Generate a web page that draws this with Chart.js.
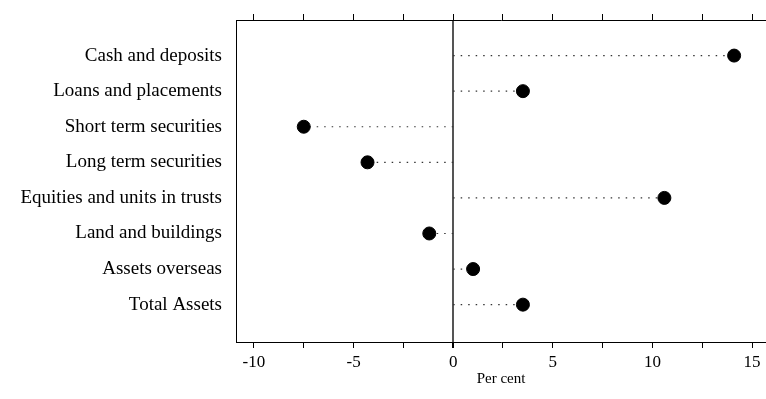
<!DOCTYPE html>
<html>
<head>
<meta charset="utf-8">
<script src="https://cdn.jsdelivr.net/npm/chart.js@4"></script>
<style>
  html, body { margin: 0; padding: 0; background: #fff; }
  #wrap { width: 766px; height: 399px; }
</style>
</head>
<body>
<div id="wrap"><canvas id="dotChart" width="766" height="399"></canvas></div>
<script>
// categories top to bottom
const categories = [
  "Cash and deposits",
  "Loans and placements",
  "Short term securities",
  "Long term securities",
  "Equities and units in trusts",
  "Land and buildings",
  "Assets overseas",
  "Total Assets"
];
// percentage change
const values = [14.1, 3.5, -7.5, -4.3, 10.6, -1.2, 1.0, 3.5];
const xTicks = [-10, -7.5, -5, -2.5, 0, 2.5, 5, 7.5, 10, 12.5, 15];
const xLabels = [-10, -5, 0, 5, 10, 15];

const serif = "'Liberation Serif', 'DejaVu Serif', serif";

// dotted leader from zero to each dot
const leaders = values.map((v, i) => ({
  type: "line",
  data: [{ x: 0, y: i + 1 }, { x: v, y: i + 1 }],
  borderColor: "#333",
  borderWidth: 1.2,
  borderDash: [1.5, 6],
  pointRadius: 0,
  order: 2
}));

const dots = {
  type: "scatter",
  data: values.map((v, i) => ({ x: v, y: i + 1 })),
  backgroundColor: "#000",
  borderColor: "#000",
  pointRadius: 6.5,
  order: 1
};

function keepTicks(list) {
  return scale => { scale.ticks = list.map(v => ({ value: v })); };
}
function noPad(s) {
  s.paddingLeft = 0; s.paddingRight = 0; s.paddingTop = 0; s.paddingBottom = 0;
}

new Chart(document.getElementById("dotChart"), {
  data: { datasets: [dots, ...leaders] },
  options: {
    responsive: false,
    animation: false,
    layout: { padding: 0, autoPadding: false },
    plugins: { legend: { display: false }, tooltip: { enabled: false } },
    scales: {
      x: {
        type: "linear",
        position: "bottom",
        min: -10.9,
        max: 15.7,
        afterBuildTicks: keepTicks(xTicks),
        afterFit: s => { s.height = 57; noPad(s); },
        border: { display: true, color: "#000", width: 1 },
        grid: {
          drawOnChartArea: true,
          drawTicks: true,
          tickLength: 6,
          tickColor: "#000",
          lineWidth: ctx => (ctx.tick && ctx.tick.value === 0 ? 2 : 1),
          color: ctx => (ctx.tick && ctx.tick.value === 0 ? "#555" : "rgba(0,0,0,0)")
        },
        ticks: {
          autoSkip: false,
          maxRotation: 0,
          padding: 4,
          color: "#000",
          font: { family: serif, size: 17 },
          callback: v => (xLabels.includes(v) ? String(v) : "")
        },
        title: {
          display: true,
          text: "Per cent",
          color: "#000",
          padding: { top: 0, bottom: 11 },
          font: { family: serif, size: 15 }
        }
      },
      xTop: {
        type: "linear",
        position: "top",
        min: -10.9,
        max: 15.7,
        afterBuildTicks: keepTicks(xTicks),
        afterFit: s => { s.height = 20; noPad(s); },
        border: { display: true, color: "#000", width: 1 },
        grid: { drawOnChartArea: false, drawTicks: true, tickLength: 6, tickColor: "#000" },
        ticks: { display: false }
      },
      y: {
        type: "linear",
        reverse: true,
        min: 0,
        max: 9.05,
        afterBuildTicks: keepTicks([1, 2, 3, 4, 5, 6, 7, 8]),
        afterFit: s => { s.width = 236; noPad(s); },
        border: { display: true, color: "#000", width: 1 },
        grid: { drawOnChartArea: false, drawTicks: false },
        ticks: {
          autoSkip: false,
          padding: 14,
          color: "#000",
          font: { family: serif, size: 19 },
          callback: v => categories[v - 1] || ""
        }
      }
    }
  }
});
</script>
</body>
</html>
